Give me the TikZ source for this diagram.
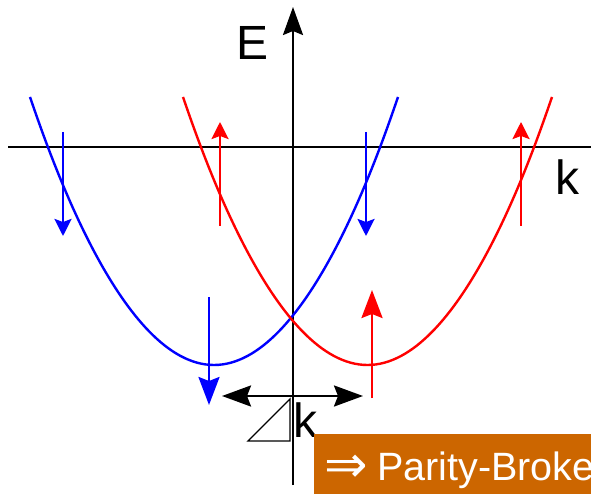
\documentclass[tikz,border=0pt]{standalone}
\usepackage{fontspec}
\setmainfont{Liberation Sans}
\newfontfamily\dejavu{DejaVu Sans}
\usetikzlibrary{arrows.meta}
\definecolor{orangebox}{RGB}{204,102,0}
\begin{document}
\begin{tikzpicture}[x=1pt,y=-1pt,
  axisline/.style={line width=2.4pt,black},
  bandcurve/.style={line width=2.4pt},
  spinsmall/.style={line width=2.6pt,-{Stealth[length=17pt,width=17pt,inset=3pt]}},
  spinbig/.style={line width=2.6pt,-{Stealth[length=28pt,width=21pt,inset=4pt]}},
  lbl/.style={font=\fontsize{48}{48}\selectfont,inner sep=0pt,anchor=base west}]
\useasboundingbox (0,0) rectangle (591,494);
\clip (0,0) rectangle (591,494);
% axes
\coordinate (hl) at (8,147);
\coordinate (hr) at (600,147);
\coordinate (vb) at (293,485);
\coordinate (vt) at (293,7);
\draw[axisline] (hl) -- (hr);
\draw[axisline,-{Stealth[length=28pt,width=20pt,inset=4pt]}] (vb) -- (vt);
\node[lbl] (E) at (236,60) {E};
\node[lbl] (klab) at (555,195) {k};
% bands
\draw[bandcurve,blue] (30,97) parabola bend (214,365) (398,97);
\draw[bandcurve,red] (183,97) parabola bend (367.5,365) (552,97);
% blue spins
\coordinate (b1s) at (63,132); \coordinate (b1e) at (63,236);
\coordinate (b2s) at (366,132); \coordinate (b2e) at (366,236);
\coordinate (b3s) at (209,297); \coordinate (b3e) at (209,405);
\draw[spinsmall,blue] (b1s) -- (b1e);
\draw[spinsmall,blue] (b2s) -- (b2e);
\draw[spinbig,blue] (b3s) -- (b3e);
% red spins
\coordinate (r1s) at (220,226); \coordinate (r1e) at (220,122);
\coordinate (r2s) at (521,226); \coordinate (r2e) at (521,122);
\coordinate (r3s) at (372,398); \coordinate (r3e) at (372,290);
\draw[spinsmall,red] (r1s) -- (r1e);
\draw[spinsmall,red] (r2s) -- (r2e);
\draw[spinbig,red] (r3s) -- (r3e);
% delta k
\coordinate (dl) at (222,396);
\coordinate (dr) at (363,396);
\draw[line width=2.6pt,{Stealth[length=29pt,width=21pt,inset=4pt]}-{Stealth[length=29pt,width=21pt,inset=4pt]}] (dl) -- (dr);
\draw[line width=1.3pt] (248,441) -- (290,441) -- (290,399) -- cycle;
\node[lbl] (dk) at (293,437) {k};
% orange box
\fill[orangebox] (314,434) rectangle (620,520);
\node[inner sep=0pt,text=white,font=\dejavu\fontsize{52}{52}\selectfont,anchor=center] (imp) at (346,469) {⇒};
\node[inner sep=0pt,text=white,font=\fontsize{39.5}{39.5}\selectfont,anchor=base west] (pb) at (377,480) {Parity-Broke};
\end{tikzpicture}
\end{document}
